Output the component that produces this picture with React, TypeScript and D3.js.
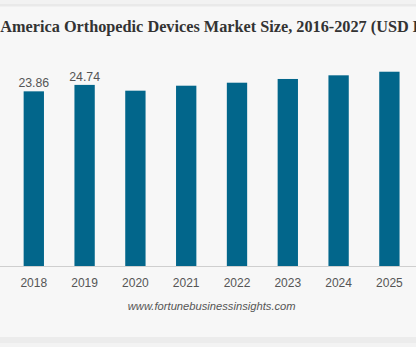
import React from "react";
import * as d3 from "d3";

const years = ["2018", "2019", "2020", "2021", "2022", "2023", "2024", "2025"];
const values = [23.86, 24.74, 23.95, 24.63, 25.04, 25.55, 26.05, 26.54];
const labeledYears = ["2018", "2019"];
const title = "North America Orthopedic Devices Market Size, 2016-2027 (USD Billion)";
const source = "www.fortunebusinessinsights.com";

const W = 416;
const H = 347;

export default function App() {
  const x = d3.scaleBand<string>().domain(years).range([8.4, 414.8]).paddingInner(0.6).paddingOuter(0.3);
  const y = d3.scaleLinear().domain([0, 30]).range([266, 46.4]);
  const center = 211.7;
  return (
    <svg width={W} height={H} style={{ position: "absolute", left: 0, top: 0, display: "block" }}>
      <rect x={0} y={0} width={W} height={H} fill="#f7f7f7" />
      <rect x={0} y={0} width={W} height={4} fill="#f2f2f2" />
      <rect x={0} y={4} width={W} height={2.5} fill="#e9e9e9" />
      <rect x={0} y={337} width={W} height={6} fill="#ececec" />
      <rect x={0} y={343} width={W} height={4} fill="#f3f3f3" />
      <text x={209.9} y={31.5} textAnchor="middle" fontFamily="Liberation Serif, serif" fontWeight="bold" fontSize={16.25} fill="#333">
        {title}
      </text>
      {years.map((yr, i) => (
        <rect key={yr} x={x(yr)} y={y(values[i])} width={x.bandwidth()} height={y(0) - y(values[i])} fill="#02668b" />
      ))}
      {years.map((yr, i) =>
        labeledYears.includes(yr) ? (
          <text key={"l" + yr} x={(x(yr) as number) + x.bandwidth() / 2} y={y(values[i]) - 4.3} textAnchor="middle" fontFamily="Liberation Sans, Arial, sans-serif" fontSize={12.3} fill="#555">
            {values[i].toFixed(2)}
          </text>
        ) : null
      )}
      <line x1={0} x2={W} y1={266.5} y2={266.5} stroke="#cfcfcf" strokeWidth={1} />
      {years.map((yr) => (
        <text key={"t" + yr} x={(x(yr) as number) + x.bandwidth() / 2} y={287} textAnchor="middle" fontFamily="Liberation Sans, Arial, sans-serif" fontSize={12} fill="#555">
          {yr}
        </text>
      ))}
      <text x={center} y={309.5} textAnchor="middle" fontFamily="Liberation Sans, Arial, sans-serif" fontStyle="italic" fontSize={11.2} fill="#555">
        {source}
      </text>
    </svg>
  );
}
